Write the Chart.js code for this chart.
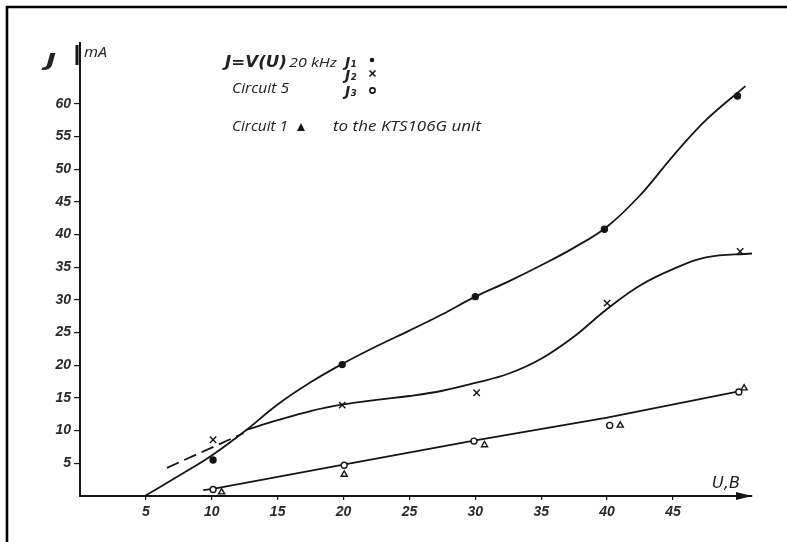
<!DOCTYPE html>
<html>
<head>
<meta charset="utf-8">
<style>
  html, body { margin: 0; padding: 0; background: #fff; }
  #wrap { width: 787px; height: 542px; position: relative; }
</style>
<script src="https://cdn.jsdelivr.net/npm/chart.js@4.4.1/dist/chart.umd.min.js"></script>
</head>
<body>
<div id="wrap"><canvas id="c" width="787" height="542"></canvas></div>
<script>
// ---- Tick labels ----
const xTicks = [5, 10, 15, 20, 25, 30, 35, 40, 45];
const yTicks = [5, 10, 15, 20, 25, 30, 35, 40, 45, 50, 55, 60];

// ---- J1 (dots) ----
const j1X = [10.1, 19.9, 30, 39.8, 49.9];
const j1Y = [5.5, 20.1, 30.5, 40.8, 61.2];
const j1CurveX = [5, 7.5, 10, 12.5, 15, 17.5, 20, 22.5, 25, 27.5, 30, 32.5, 35, 37.5, 40, 42.5, 45, 47.5, 50.5];
const j1CurveY = [0.1, 3.1, 6.2, 9.9, 14.0, 17.4, 20.3, 22.9, 25.3, 27.8, 30.5, 32.8, 35.3, 38.0, 41.2, 46.0, 52.0, 57.5, 62.7];

// ---- J2 (crosses) ----
const j2X = [10.1, 19.9, 30.1, 40, 50.1];
const j2Y = [8.6, 13.9, 15.8, 29.5, 37.4];
const j2CurveX = [12.6, 15, 17.5, 20, 22.5, 25, 27.5, 30, 32.5, 35, 37.5, 40, 42.5, 45, 47.5, 51];
const j2CurveY = [10.1, 11.6, 13.0, 14.0, 14.7, 15.3, 16.1, 17.3, 18.7, 21.0, 24.4, 28.6, 32.2, 34.7, 36.5, 37.1];
const j2DashX = [6.6, 12.4];
const j2DashY = [4.3, 9.6];

// ---- J3 (circles) ----
const j3X = [10.1, 20.05, 29.9, 40.2, 50];
const j3Y = [1.0, 4.7, 8.4, 10.8, 15.9];
const j3LineX = [9.36, 10.1, 20, 30, 40, 50];
const j3LineY = [0.9, 1.1, 4.8, 8.5, 12, 16];

// ---- Circuit 1 (triangles) ----
const triX = [10.75, 20.05, 30.7, 41, 50.4];
const triY = [0.6, 3.3, 7.8, 10.8, 16.5];

const pts = (xs, ys) => xs.map((x, i) => ({ x: x, y: ys[i] }));
const INK = '#151515';

function fitText(ctx, t, x, y, w) {
  const m = ctx.measureText(t).width;
  ctx.save();
  ctx.translate(x, y);
  ctx.scale(w / m, 1);
  ctx.fillText(t, 0, 0);
  ctx.restore();
}

const notes = {
  id: 'notes',
  afterDraw(chart) {
    const ctx = chart.ctx;
    const xs = chart.scales.x, ys = chart.scales.y;
    ctx.save();
    // frame (top & left)
    ctx.strokeStyle = '#000';
    ctx.lineWidth = 2.6;
    ctx.beginPath();
    ctx.moveTo(7, 542); ctx.lineTo(7, 7); ctx.lineTo(787, 7);
    ctx.stroke();
    // arrow on x axis
    const ax = xs.right, ay = ys.bottom;
    ctx.strokeStyle = INK; ctx.fillStyle = INK; ctx.lineWidth = 1.6;
    ctx.beginPath();
    ctx.moveTo(ax - 16, ay - 4); ctx.lineTo(ax, ay); ctx.lineTo(ax - 16, ay + 4);
    ctx.closePath(); ctx.fill();
    // thick mark at top of y axis
    ctx.lineWidth = 3;
    ctx.beginPath(); ctx.moveTo(xs.left - 3, ys.top + 2); ctx.lineTo(xs.left - 3, ys.top + 22); ctx.stroke();

    ctx.fillStyle = '#222';
    ctx.textBaseline = 'alphabetic';
    ctx.textAlign = 'left';
    // axis titles
    ctx.font = 'bold italic 17px "DejaVu Sans"';
    fitText(ctx, 'J', 46, 66, 10);
    ctx.font = 'italic 14px "Open Sans"';
    fitText(ctx, 'mA', 84, 57, 23);
    ctx.font = 'italic 15px "DejaVu Sans"';
    fitText(ctx, 'U,B', 712, 488, 28);

    // legend notes
    ctx.font = 'bold italic 16px "DejaVu Sans"';
    fitText(ctx, 'J=V(U)', 225, 67, 62);
    ctx.font = 'italic 13.5px "Open Sans"';
    fitText(ctx, '20 kHz', 289, 67, 48);
    ctx.font = 'italic 15px "Open Sans"';
    fitText(ctx, 'Circuit 5', 232, 93, 57);
    fitText(ctx, 'Circuit 1', 232, 131, 56);
    fitText(ctx, 'to the KTS106G unit', 333, 131, 148);
    ctx.font = 'bold italic 14px "DejaVu Sans"';
    ctx.fillText('J\u2081', 345, 67);
    ctx.fillText('J\u2082', 345, 80);
    ctx.fillText('J\u2083', 345, 96);
    // legend symbols
    ctx.fillStyle = INK; ctx.strokeStyle = INK; ctx.lineWidth = 1.6;
    ctx.beginPath(); ctx.arc(372, 60, 2.3, 0, Math.PI * 2); ctx.fill();
    ctx.beginPath(); ctx.moveTo(369.5, 70.5); ctx.lineTo(375.5, 76.5); ctx.moveTo(375.5, 70.5); ctx.lineTo(369.5, 76.5); ctx.stroke();
    ctx.beginPath(); ctx.arc(372.5, 90.5, 2.6, 0, Math.PI * 2); ctx.stroke();
    ctx.beginPath(); ctx.moveTo(301, 123); ctx.lineTo(305, 131); ctx.lineTo(297, 131); ctx.closePath(); ctx.fill();
    ctx.restore();
  }
};

const lineDs = (xs, ys, extra) => Object.assign({
  type: 'scatter', data: pts(xs, ys), showLine: true, pointRadius: 0,
  borderColor: INK, borderWidth: 1.8, backgroundColor: INK,
  tension: 0.4, fill: false, clip: false
}, extra || {});

const markDs = (xs, ys, extra) => Object.assign({
  type: 'scatter', data: pts(xs, ys), showLine: false,
  borderColor: INK, backgroundColor: INK, borderWidth: 1.4, clip: false
}, extra || {});

new Chart(document.getElementById('c'), {
  type: 'scatter',
  data: {
    datasets: [
      markDs(j1X, j1Y, { label: 'J1', pointStyle: 'circle', pointRadius: 3 }),
      markDs(j2X, j2Y, { label: 'J2', pointStyle: 'crossRot', pointRadius: 4.5 }),
      markDs(j3X, j3Y, { label: 'J3', pointStyle: 'circle', pointRadius: 3, backgroundColor: '#fff' }),
      markDs(triX, triY, { label: 'Circuit 1', pointStyle: 'triangle', pointRadius: 3.5, backgroundColor: '#fff' }),
      lineDs(j1CurveX, j1CurveY, { label: 'J1 curve' }),
      lineDs(j2CurveX, j2CurveY, { label: 'J2 curve' }),
      lineDs(j2DashX, j2DashY, { label: 'J2 dashed', borderDash: [13, 6], tension: 0 }),
      lineDs(j3LineX, j3LineY, { label: 'J3 line', tension: 0 })
    ]
  },
  options: {
    responsive: false,
    animation: false,
    layout: { padding: { left: 0, top: 43, right: 35, bottom: 0 } },
    plugins: { legend: { display: false }, tooltip: { enabled: false } },
    scales: {
      x: {
        type: 'linear', min: 0, max: 51,
        afterBuildTicks: s => { s.ticks = xTicks.map(v => ({ value: v })); },
        afterFit: s => { s.height = 46; },
        border: { display: true, color: INK, width: 2 },
        grid: { drawOnChartArea: false, drawTicks: true, tickLength: 4, color: INK, lineWidth: 1.2 },
        ticks: { color: '#2a2a2a', padding: 4, maxRotation: 0,
          font: { family: 'Liberation Sans', size: 14, style: 'italic', weight: 'bold' } }
      },
      y: {
        type: 'linear', min: 0, max: 69.3,
        afterBuildTicks: s => { s.ticks = yTicks.map(v => ({ value: v })); },
        afterFit: s => { s.width = 80; },
        border: { display: true, color: INK, width: 2 },
        grid: { drawOnChartArea: false, drawTicks: true, tickLength: 6, color: INK, lineWidth: 1.2 },
        ticks: { color: '#2a2a2a', padding: 3,
          font: { family: 'Liberation Sans', size: 14, style: 'italic', weight: 'bold' } }
      }
    }
  },
  plugins: [notes]
});
</script>
</body>
</html>
